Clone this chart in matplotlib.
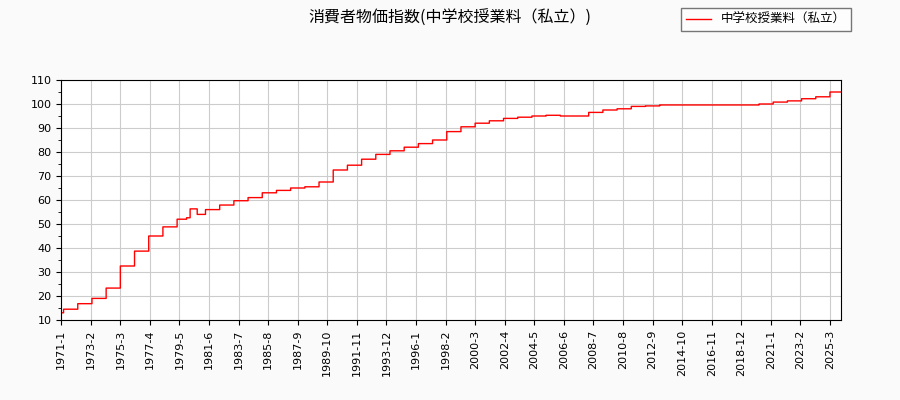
import matplotlib
matplotlib.use("Agg")
import matplotlib.pyplot as plt

plt.rcParams['font.family'] = ['Noto Sans CJK JP', 'DejaVu Sans']

# change points: (year, month, value)
change_years = [1971,1971,1972,1973,1974,1975,1976,1977,1978,1979,1979,1980,1980,1981,1982,1983,1984,1985,1986,1987,1988,1989,1990,1991,1992,1993,1994,1995,1996,1997,1998,1999,2000,2001,2002,2003,2004,2005,2006,2007,2008,2009,2010,2011,2012,2013,2020,2021,2022,2023,2024,2025]
change_months = [1,3,3,3,3,3,3,3,3,3,11,2,8,3,3,3,3,3,3,3,3,3,3,3,3,3,3,3,3,3,3,3,3,3,3,3,3,3,3,3,3,3,3,3,3,3,3,3,3,3,3,3]
change_values = [13.0,14.5,16.8,19.0,23.3,32.5,38.7,45.0,48.8,52.0,52.6,56.3,54.0,56.0,57.9,59.7,61.0,63.0,64.0,65.0,65.5,67.5,72.5,74.5,77.0,79.0,80.5,82.0,83.5,85.0,88.5,90.5,92.0,93.0,94.0,94.5,95.0,95.3,95.0,95.0,96.5,97.5,98.0,99.0,99.2,99.6,100.0,100.8,101.3,102.2,103.0,105.0]
last_year, last_month = 2025, 12

labels, values = [], []
ci = 0
y, m = 1971, 1
cur = change_values[0]
while (y, m) <= (last_year, last_month):
    while ci < len(change_years) and (change_years[ci], change_months[ci]) <= (y, m):
        cur = change_values[ci]; ci += 1
    labels.append(f"{y}-{m}"); values.append(cur)
    m += 1
    if m > 12: m = 1; y += 1

fig = plt.figure(figsize=(9, 4), dpi=100, facecolor='#fafafa')
ax = fig.add_axes([0.068, 0.2, 0.866, 0.6])
x = list(range(len(values)))
ax.step(x, values, where='post', color='red', lw=1, label='中学校授業料（私立）')
ax.set_xlim(0, len(values) - 1)
ax.set_ylim(10, 110)
ax.set_yticks(range(10, 111, 10))
ax.set_yticks(range(15, 110, 10), minor=True)
ticks = x[::25]
ax.set_xticks(ticks)
ax.set_xticklabels([labels[i] for i in ticks], rotation=90, fontsize=8, family='DejaVu Sans')
ax.tick_params(axis='y', labelsize=8)
for t in ax.get_yticklabels(): t.set_family('DejaVu Sans')
ax.grid(True, color='#cccccc', lw=0.8)
ax.set_axisbelow(True)
fig.suptitle('消費者物価指数(中学校授業料（私立）)', y=0.975, fontsize=11.5)
fig.legend(loc='upper right', bbox_to_anchor=(0.952, 0.995), fontsize=9, fancybox=False, edgecolor='#555555')
fig.savefig('out.png', facecolor=fig.get_facecolor())
